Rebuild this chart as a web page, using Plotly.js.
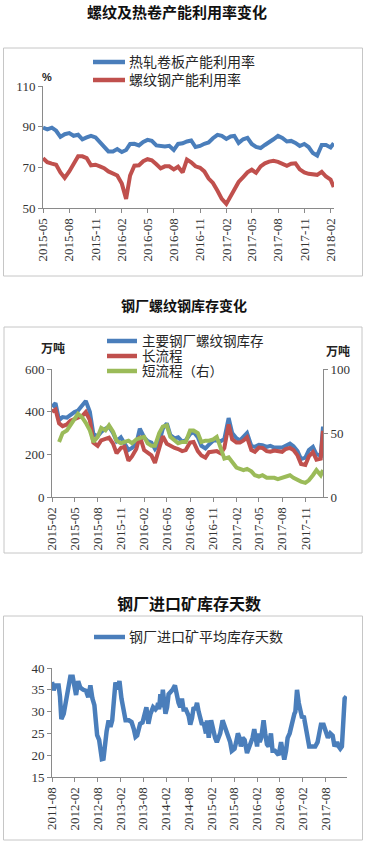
<!DOCTYPE html>
<html><head><meta charset="utf-8">
<script src="https://cdn.plot.ly/plotly-3.0.1.min.js"></script>
<style>html,body{margin:0;padding:0;background:#fff;}#chart{width:366px;height:841px;}</style>
</head><body><div id="chart"></div>
<script>
// ---------- Chart 1: 螺纹及热卷产能利用率变化 ----------
const c1Dates = ['2015-05-01','2015-05-16','2015-06-01','2015-06-16','2015-07-01','2015-07-16','2015-08-01','2015-08-16','2015-09-01','2015-09-16','2015-10-01','2015-10-16','2015-11-01','2015-11-16','2015-12-01','2015-12-16','2016-01-01','2016-01-16','2016-02-01','2016-02-16','2016-03-01','2016-03-16','2016-04-01','2016-04-16','2016-05-01','2016-05-16','2016-06-01','2016-06-16','2016-07-01','2016-07-16','2016-08-01','2016-08-16','2016-09-01','2016-09-16','2016-10-01','2016-10-16','2016-11-01','2016-11-16','2016-12-01','2016-12-16','2017-01-01','2017-01-16','2017-02-01','2017-02-16','2017-03-01','2017-03-16','2017-04-01','2017-04-16','2017-05-01','2017-05-16','2017-06-01','2017-06-16','2017-07-01','2017-07-16','2017-08-01','2017-08-16','2017-09-01','2017-09-16','2017-10-01','2017-10-16','2017-11-01','2017-11-16','2017-12-01','2017-12-16','2018-01-01','2018-01-16','2018-02-01','2018-02-12'];
const hotRolledUtil = [89.5,88.7,89.5,88.0,85.0,86.3,86.8,85.5,86.0,83.8,84.7,85.5,84.7,82.5,80.5,77.8,77.8,79.0,77.5,78.5,81.5,81.6,80.8,82.5,83.5,83.0,80.8,80.3,80.3,80.6,78.5,81.5,81.8,82.7,83.2,80.0,80.5,81.6,82.2,84.3,86.0,85.5,84.0,85.2,85.5,82.0,83.8,84.5,81.5,80.0,79.5,81.0,82.7,83.8,85.5,84.5,82.7,83.0,82.0,80.5,81.5,80.0,77.0,75.8,81.0,81.0,79.8,81.8];
const rebarUtil = [74.5,72.5,71.8,71.3,67.5,64.8,68.0,72.0,75.4,75.4,74.5,71.0,71.3,70.5,69.6,68.0,67.2,66.0,62.0,54.5,66.0,70.8,71.0,73.0,74.0,73.5,71.5,69.5,70.5,70.5,69.0,70.3,67.5,73.8,72.5,70.5,69.8,68.0,64.5,62.3,58.5,54.5,52.0,55.8,59.8,62.8,65.2,67.5,68.8,67.3,70.5,72.0,72.8,73.2,72.7,72.0,70.8,71.8,72.0,69.0,67.5,66.8,66.3,66.3,67.8,65.5,64.0,60.3];
const c1Names = ['热轧卷板产能利用率','螺纹钢产能利用率'];

// ---------- Chart 2: 钢厂螺纹钢库存变化 ----------
const c2Dates = ['2015-02-01','2015-02-15','2015-03-01','2015-03-15','2015-04-01','2015-04-15','2015-05-01','2015-05-15','2015-06-01','2015-06-15','2015-07-01','2015-07-15','2015-08-01','2015-08-15','2015-09-01','2015-09-15','2015-10-01','2015-10-15','2015-11-01','2015-11-15','2015-12-01','2015-12-15','2016-01-01','2016-01-15','2016-02-01','2016-02-15','2016-03-01','2016-03-15','2016-04-01','2016-04-15','2016-05-01','2016-05-15','2016-06-01','2016-06-15','2016-07-01','2016-07-15','2016-08-01','2016-08-15','2016-09-01','2016-09-15','2016-10-01','2016-10-15','2016-11-01','2016-11-15','2016-12-01','2016-12-15','2017-01-01','2017-01-15','2017-02-01','2017-02-15','2017-03-01','2017-03-15','2017-04-01','2017-04-15','2017-05-01','2017-05-15','2017-06-01','2017-06-15','2017-07-01','2017-07-15','2017-08-01','2017-08-15','2017-09-01','2017-09-15','2017-10-01','2017-10-15','2017-11-01','2017-11-15','2017-12-01','2017-12-15','2018-01-01','2018-01-10'];
const rebarStockTotal = [423,440,360,375,372,385,398,405,431,450,400,295,285,305,320,330,300,262,280,250,220,230,250,320,280,262,255,225,255,320,345,290,275,280,260,265,295,305,280,240,228,245,265,265,262,272,370,300,275,265,280,300,240,235,245,243,235,240,232,232,232,240,250,238,215,178,185,220,235,200,195,330];
const rebarStockLong = [400,410,345,332,340,358,365,372,380,398,360,255,240,265,270,278,250,205,230,235,170,190,225,285,220,210,195,160,235,285,250,240,230,225,215,220,255,258,215,195,185,210,212,215,205,230,340,270,255,255,265,280,220,212,232,230,215,212,218,215,212,225,230,220,195,155,150,190,210,175,180,310];
const rebarStockShort = [null,null,43,50,52,56,61,65,62,58,52,43,47,54,52,56,51,44,42,43,44,42,45,46,47,42,40,40,50,55,56,47,44,42,43,43,52,52,50,43,44,44,45,47,38,30,31,27,23,22,21,22,20,17,16,17,15,15,15,14,15,16,17,15,13,12,11,13,17,21,17,21];
const c2Names = ['主要钢厂螺纹钢库存','长流程','短流程（右）'];

// ---------- Chart 3: 钢厂进口矿库存天数 ----------
const c3Dates = ['2011-08-01','2011-08-14','2011-08-27','2011-09-23','2011-10-04','2011-10-15','2011-11-03','2011-11-21','2011-12-08','2011-12-26','2012-01-14','2012-01-28','2012-02-10','2012-02-27','2012-03-15','2012-04-08','2012-04-29','2012-05-18','2012-06-04','2012-06-20','2012-07-06','2012-07-17','2012-07-28','2012-08-13','2012-08-24','2012-09-04','2012-09-17','2012-09-28','2012-10-12','2012-10-28','2012-11-12','2012-11-26','2012-12-06','2012-12-22','2013-01-07','2013-01-23','2013-02-08','2013-02-24','2013-03-13','2013-04-08','2013-04-30','2013-05-18','2013-06-01','2013-06-14','2013-07-08','2013-07-27','2013-08-10','2013-08-27','2013-09-12','2013-09-28','2013-10-20','2013-11-08','2013-11-21','2013-11-29','2013-12-07','2013-12-17','2013-12-26','2014-01-06','2014-01-27','2014-02-09','2014-02-21','2014-03-11','2014-03-25','2014-04-13','2014-04-29','2014-05-12','2014-05-26','2014-06-08','2014-06-21','2014-07-10','2014-08-01','2014-08-14','2014-08-28','2014-09-10','2014-09-24','2014-10-07','2014-10-20','2014-11-03','2014-11-16','2014-11-29','2014-12-18','2014-12-26','2015-01-09','2015-01-28','2015-02-10','2015-03-01','2015-03-15','2015-04-11','2015-04-30','2015-05-13','2015-06-03','2015-06-30','2015-07-13','2015-08-04','2015-08-17','2015-08-31','2015-09-13','2015-09-24','2015-10-08','2015-10-24','2015-11-12','2015-12-01','2015-12-13','2015-12-27','2016-01-09','2016-01-18','2016-02-01','2016-02-09','2016-02-22','2016-03-05','2016-03-24','2016-04-06','2016-04-20','2016-05-03','2016-05-22','2016-06-04','2016-06-23','2016-07-09','2016-07-23','2016-08-11','2016-08-24','2016-09-06','2016-09-20','2016-10-03','2016-10-19','2016-11-02','2016-11-15','2016-11-26','2016-12-04','2016-12-17','2016-12-31','2017-01-13','2017-01-27','2017-02-09','2017-02-23','2017-03-06','2017-03-25','2017-04-15','2017-05-12','2017-05-31','2017-06-13','2017-06-27','2017-07-18','2017-08-01','2017-08-22','2017-09-10','2017-09-29','2017-10-14','2017-11-03','2017-11-16','2017-11-29','2017-12-12','2018-01-03','2018-01-17'];
const oreStockDays = [36.8,34.9,36.0,36.0,33.5,28.3,29.5,32.0,34.5,38.0,38.0,36.0,33.8,37.0,35.5,35.0,34.8,33.3,36.0,33.0,31.5,28.0,24.6,23.5,20.1,19.1,19.2,22.4,25.5,28.0,26.5,28.0,30.6,36.7,35.1,37.0,33.0,30.0,28.0,28.0,27.6,26.0,24.2,24.5,27.2,27.5,29.0,31.0,27.2,29.4,31.0,30.5,31.0,32.0,30.5,34.0,31.0,35.0,29.5,31.0,34.0,34.5,35.0,36.0,33.0,32.0,31.0,33.0,30.5,30.5,29.0,27.0,28.5,31.0,30.5,32.0,30.0,28.0,27.0,27.5,25.0,28.0,24.0,28.0,26.0,24.0,23.0,25.0,28.0,27.0,25.0,23.0,21.0,21.5,23.0,25.0,24.0,22.0,24.0,23.5,20.5,22.0,22.5,24.0,26.0,24.0,22.0,25.0,23.0,24.0,28.0,25.0,22.5,22.0,25.0,21.0,21.0,20.5,20.0,23.0,21.0,19.0,21.0,24.0,25.0,27.0,28.0,29.5,30.0,35.0,32.0,30.0,28.5,29.0,27.0,25.0,22.0,22.0,22.0,23.0,25.0,27.0,27.0,26.0,24.0,25.0,24.5,22.0,23.0,22.0,21.5,22.0,33.0,33.5];
const c3Names = ['钢厂进口矿平均库存天数'];

const titles = ['螺纹及热卷产能利用率变化','钢厂螺纹钢库存变化','钢厂进口矿库存天数'];

// ---------- layout helpers (pixel -> paper) ----------
const W = 366, H = 841;
const px = x => x / W;
const py = y => 1 - y / H;

const BLUE = '#4a7ebb', RED = '#c0504d', GREEN = '#9bbb59';
const AXC = '#8a8a8a';
const tickFont = {family: 'Liberation Serif, Times New Roman, serif', size: 13, color: '#333'};
const cjk = 'Noto Sans CJK SC, sans-serif';
const legFamily = 'Liberation Serif, Noto Sans CJK SC, sans-serif';

function xAx(domain, range, tick0, dtick, anchor) {
  return {domain, type: 'date', range, tick0, dtick, tickformat: '%Y-%m', tickangle: -90,
    ticks: 'outside', ticklen: 4, tickcolor: AXC, showline: true, linecolor: AXC, linewidth: 1,
    showgrid: false, zeroline: false, tickfont: tickFont, anchor, fixedrange: true};
}
function yAx(domain, range, dtick, anchor, extra) {
  return Object.assign({domain, range, dtick, tick0: range[0], ticks: 'outside', ticklen: 4, tickcolor: AXC,
    showline: true, linecolor: AXC, linewidth: 1, showgrid: false, zeroline: false,
    tickfont: tickFont, anchor, fixedrange: true}, extra || {});
}
const lw = 4;
const traces = [
  {x: c1Dates, y: hotRolledUtil, name: c1Names[0], xaxis: 'x', yaxis: 'y', mode: 'lines', line: {color: BLUE, width: lw}, showlegend: false},
  {x: c1Dates, y: rebarUtil, name: c1Names[1], xaxis: 'x', yaxis: 'y', mode: 'lines', line: {color: RED, width: lw}, showlegend: false},
  {x: c2Dates, y: rebarStockTotal, name: c2Names[0], xaxis: 'x2', yaxis: 'y2', mode: 'lines', line: {color: BLUE, width: lw}, showlegend: false},
  {x: c2Dates, y: rebarStockLong, name: c2Names[1], xaxis: 'x2', yaxis: 'y2', mode: 'lines', line: {color: RED, width: lw}, showlegend: false},
  {x: c2Dates, y: rebarStockShort, name: c2Names[2], xaxis: 'x2', yaxis: 'y3', mode: 'lines', line: {color: GREEN, width: lw}, showlegend: false},
  {x: c3Dates, y: oreStockDays, name: c3Names[0], xaxis: 'x3', yaxis: 'y4', mode: 'lines', line: {color: BLUE, width: 4.5}, showlegend: false}
];

// manual legends (swatch + label)
const legendItems = [
  {name: c1Names[0], color: BLUE, x0: 93, x1: 125, y: 62, tx: 128, fs: 14},
  {name: c1Names[1], color: RED, x0: 93, x1: 125, y: 80, tx: 128, fs: 14},
  {name: c2Names[0], color: BLUE, x0: 107, x1: 137, y: 341, tx: 141, fs: 13.5},
  {name: c2Names[1], color: RED, x0: 107, x1: 137, y: 356, tx: 141, fs: 13.5},
  {name: c2Names[2], color: GREEN, x0: 107, x1: 137, y: 371, tx: 141, fs: 13.5},
  {name: c3Names[0], color: BLUE, x0: 94, x1: 125, y: 637, tx: 128, fs: 14}
];

const shapes = [
  {type: 'rect', xref: 'paper', yref: 'paper', x0: px(3.5), x1: px(362.5), y0: py(276), y1: py(48), line: {color: '#c6c6c6', width: 1}},
  {type: 'rect', xref: 'paper', yref: 'paper', x0: px(4), x1: px(362), y0: py(553), y1: py(327), line: {color: '#c6c6c6', width: 1}},
  {type: 'rect', xref: 'paper', yref: 'paper', x0: px(3.5), x1: px(362.5), y0: py(840), y1: py(616), line: {color: '#c6c6c6', width: 1}}
];
legendItems.forEach(it => shapes.push({type: 'line', xref: 'paper', yref: 'paper', x0: px(it.x0), x1: px(it.x1), y0: py(it.y), y1: py(it.y), line: {color: it.color, width: 4.5}}));

const annotations = [
  {text: '<b>' + titles[0] + '</b>', x: px(177), y: py(11), font: {family: cjk, size: 15, color: '#111'}},
  {text: '<b>' + titles[1] + '</b>', x: px(184), y: py(305), font: {family: cjk, size: 14, color: '#111'}},
  {text: '<b>' + titles[2] + '</b>', x: px(189), y: py(603), font: {family: cjk, size: 16, color: '#111'}},
  {text: '<b>%</b>', x: px(47), y: py(77), font: {family: 'Liberation Sans, Arial, sans-serif', size: 11, color: '#222'}},
  {text: '<b>万吨</b>', x: px(53), y: py(347), font: {family: cjk, size: 12, color: '#222'}},
  {text: '<b>万吨</b>', x: px(338), y: py(350), font: {family: cjk, size: 12, color: '#222'}}
].map(a => Object.assign({xref: 'paper', yref: 'paper', showarrow: false, xanchor: 'center', yanchor: 'middle'}, a));
legendItems.forEach(it => annotations.push({text: it.name, xref: 'paper', yref: 'paper', x: px(it.tx), y: py(it.y), xanchor: 'left', yanchor: 'middle', borderpad: 0, showarrow: false, font: {family: legFamily, size: it.fs, color: '#262626'}}));

const layout = {
  width: W, height: H, margin: {l: 0, r: 0, t: 0, b: 0}, paper_bgcolor: '#fff', plot_bgcolor: 'rgba(0,0,0,0)',
  showlegend: false,
  xaxis: xAx([px(43), px(334)], ['2015-05-01', '2018-02-13'], '2015-05-01', 'M3', 'y'),
  yaxis: yAx([py(208), py(86)], [50, 110], 20, 'x'),
  xaxis2: xAx([px(52), px(323)], ['2015-02-01', '2018-01-10'], '2015-02-01', 'M3', 'y2'),
  yaxis2: yAx([py(497), py(369)], [0, 600], 200, 'x2'),
  yaxis3: yAx([py(497), py(369)], [0, 100], 50, 'x2', {overlaying: 'y2', side: 'right'}),
  xaxis3: xAx([px(52), px(347)], ['2011-08-01', '2018-01-22'], '2011-08-01', 'M6', 'y4'),
  yaxis4: yAx([py(777), py(668)], [15, 40], 5, 'x3'),
  shapes, annotations
};
Plotly.newPlot('chart', traces, layout, {staticPlot: true, displayModeBar: false});
</script></body></html>
